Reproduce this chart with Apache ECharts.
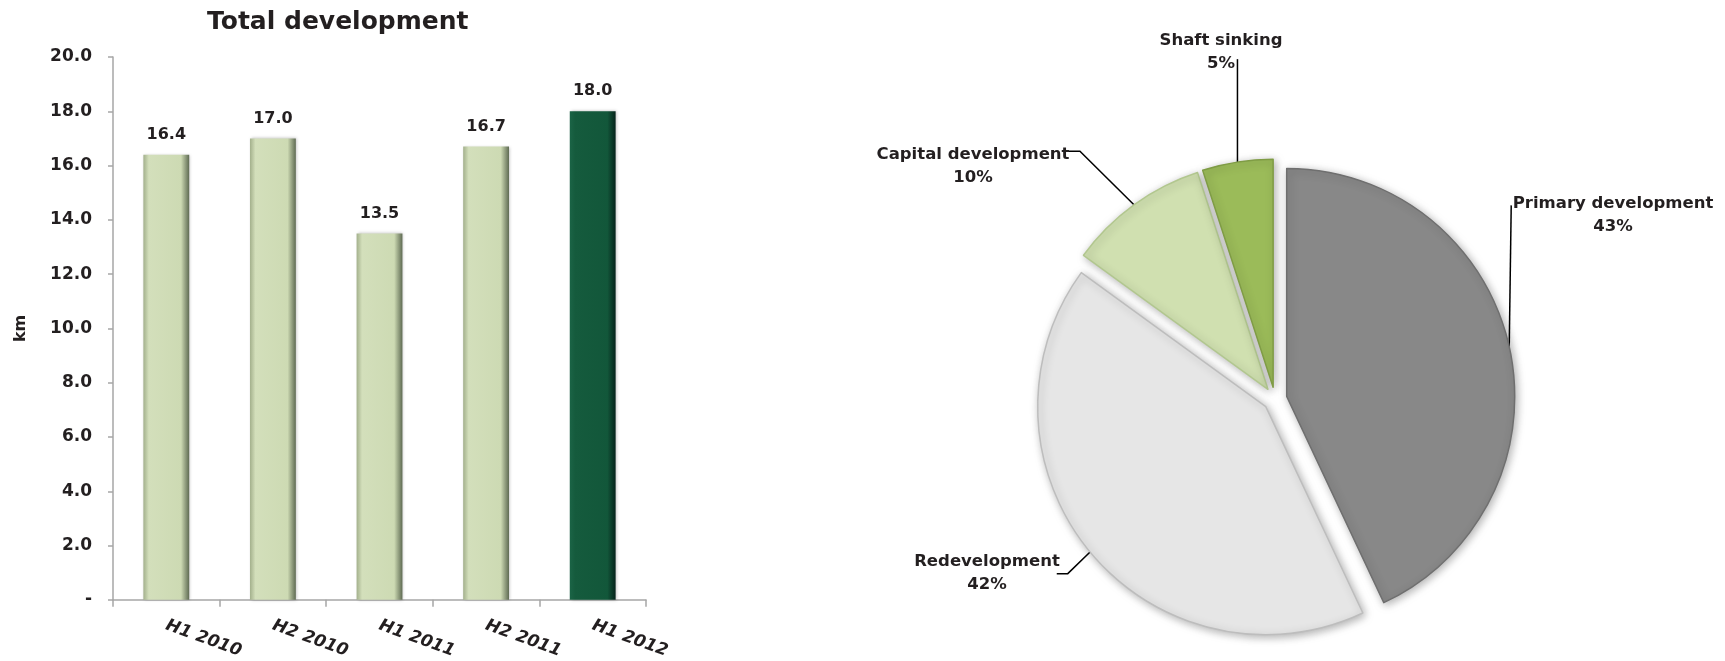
<!DOCTYPE html>
<html>
<head>
<meta charset="utf-8">
<script src="https://cdn.jsdelivr.net/npm/echarts@6/dist/echarts.min.js"></script>
<style>
html,body{margin:0;padding:0;background:#fff;}
#chart{width:1725px;height:661px;}
</style>
</head>
<body>
<div id="chart"></div>
<script>
// ---- data ----
const categories = ['H1 2010', 'H2 2010', 'H1 2011', 'H2 2011', 'H1 2012'];
const kmValues = [16.4, 17.0, 13.5, 16.7, 18.0];
const pieNames = ['Primary development', 'Redevelopment', 'Capital development', 'Shaft sinking'];
const pieShares = [43, 42, 10, 5];

// ---- style / layout ----
const FONT = 'DejaVu Sans';
const TXT = '#231f20';
const AXIS = '#a6a6a6';
const pieColors = ['#888888', '#e6e6e6', '#d0e0b0', '#9bbb59'];
const pieBorders = ['#6f6f6f', '#bdbdbd', '#b2c78f', '#7f9c45'];
const EXPLODE = 12;

function lightBar() {
  return new echarts.graphic.LinearGradient(0, 0, 1, 0, [
    {offset: 0, color: '#a3b08c'}, {offset: 0.12, color: '#d3dfbb'},
    {offset: 0.82, color: '#cddab3'}, {offset: 1, color: '#5f6b53'}]);
}
function darkBar() {
  return new echarts.graphic.LinearGradient(0, 0, 1, 0, [
    {offset: 0, color: '#1b6446'}, {offset: 0.12, color: '#155b3d'},
    {offset: 0.82, color: '#12573a'}, {offset: 1, color: '#05231a'}]);
}

// label anchors for pie (top-centre of two-line label) and leader-line bends
const pieLabelPos = [
  {x: 1613, y: 192, line: p => [p, [p[0] + 2, 208]]},
  {x: 987, y: 550, line: p => [p, [1077, 566], [1066, 566]]},
  {x: 973, y: 143, line: p => [p, [1087, 161], [1075, 161]]},
  {x: 1221, y: 29, line: p => [p, [p[0], 71]]}
];

// slice explode direction (derived from the shares) so labels can be placed absolutely
function explodeShift(i) {
  const total = pieShares.reduce((a, b) => a + b, 0);
  let cum = 0;
  for (let k = 0; k < i; k++) cum += pieShares[k];
  const th = 2 * Math.PI * (cum + pieShares[i] / 2) / total;
  return [EXPLODE * Math.sin(th), -EXPLODE * Math.cos(th)];
}

const pieTextStyle = {fontFamily: FONT, fontWeight: 'bold', fontSize: 16.5, lineHeight: 23, color: TXT, align: 'center'};

const chart = echarts.init(document.getElementById('chart'));
chart.setOption({
  animation: false,
  title: {
    text: 'Total development', left: 202, top: 5,
    textStyle: {fontFamily: FONT, fontWeight: 'bold', fontSize: 25, color: TXT}
  },
  grid: {left: 113, right: 1079, top: 57, bottom: 58},
  xAxis: {
    type: 'category', data: categories,
    axisLine: {lineStyle: {color: AXIS, width: 1.5}},
    axisTick: {show: true, length: 7, lineStyle: {color: AXIS, width: 1.5}},
    axisLabel: {rotate: -20, margin: 25, fontFamily: FONT, fontWeight: 'bold', fontStyle: 'italic', fontSize: 17, color: TXT}
  },
  yAxis: {
    type: 'value', min: 0, max: 20, interval: 2,
    name: 'km', nameLocation: 'middle', nameGap: 84, nameRotate: 90,
    nameTextStyle: {fontFamily: FONT, fontWeight: 'bold', fontSize: 16, color: TXT},
    axisLine: {show: true, lineStyle: {color: AXIS, width: 1.5}},
    axisTick: {show: true, length: 5, lineStyle: {color: AXIS, width: 1.5}},
    splitLine: {show: false},
    axisLabel: {margin: 21, fontFamily: FONT, fontWeight: 'bold', fontSize: 17, color: TXT,
      formatter: v => v === 0 ? '-' : v.toFixed(1)}
  },
  series: [
    {
      type: 'bar', data: kmValues, barWidth: '43%',
      itemStyle: {
        color: p => p.dataIndex === kmValues.length - 1 ? darkBar() : lightBar(),
        shadowBlur: 3, shadowColor: 'rgba(0,0,0,0.25)', shadowOffsetX: 1, shadowOffsetY: 0
      },
      label: {show: true, position: 'top', distance: 12, fontFamily: FONT, fontWeight: 'bold', fontSize: 16, color: TXT,
        formatter: p => p.value.toFixed(1)}
    },
    {
      type: 'pie', center: [1275, 399], radius: 228, startAngle: 90, clockwise: true,
      selectedMode: 'multiple', selectedOffset: EXPLODE, avoidLabelOverlap: false,
      data: pieNames.map((n, i) => ({
        name: n, value: pieShares[i], selected: true,
        itemStyle: {color: pieColors[i], borderColor: pieBorders[i], borderWidth: 1.5,
          shadowBlur: 8, shadowColor: 'rgba(0,0,0,0.3)', shadowOffsetX: 2, shadowOffsetY: 2}
      })),
      label: {show: true, position: 'outside', overflow: 'none', distanceToLabelLine: 0,
        formatter: p => '{a|' + p.name + '}\n{a|' + p.value + '%}',
        fontFamily: FONT, fontWeight: 'bold', fontSize: 16.5, lineHeight: 23, color: TXT, verticalAlign: 'top',
        rich: {a: pieTextStyle}},
      labelLine: {show: true, length: 20, length2: 10, lineStyle: {color: '#000', width: 1.5}},
      labelLayout: params => {
        const cfg = pieLabelPos[params.dataIndex];
        const r = params.labelRect;
        const s = explodeShift(params.dataIndex);
        const p0 = params.labelLinePoints ? params.labelLinePoints[0] : [cfg.x, cfg.y];
        return {dx: cfg.x - s[0] - (r.x + r.width / 2), dy: cfg.y - s[1] - r.y, labelLinePoints: cfg.line(p0)};
      },
      emphasis: {disabled: true}
    }
  ]
});
</script>
</body>
</html>
